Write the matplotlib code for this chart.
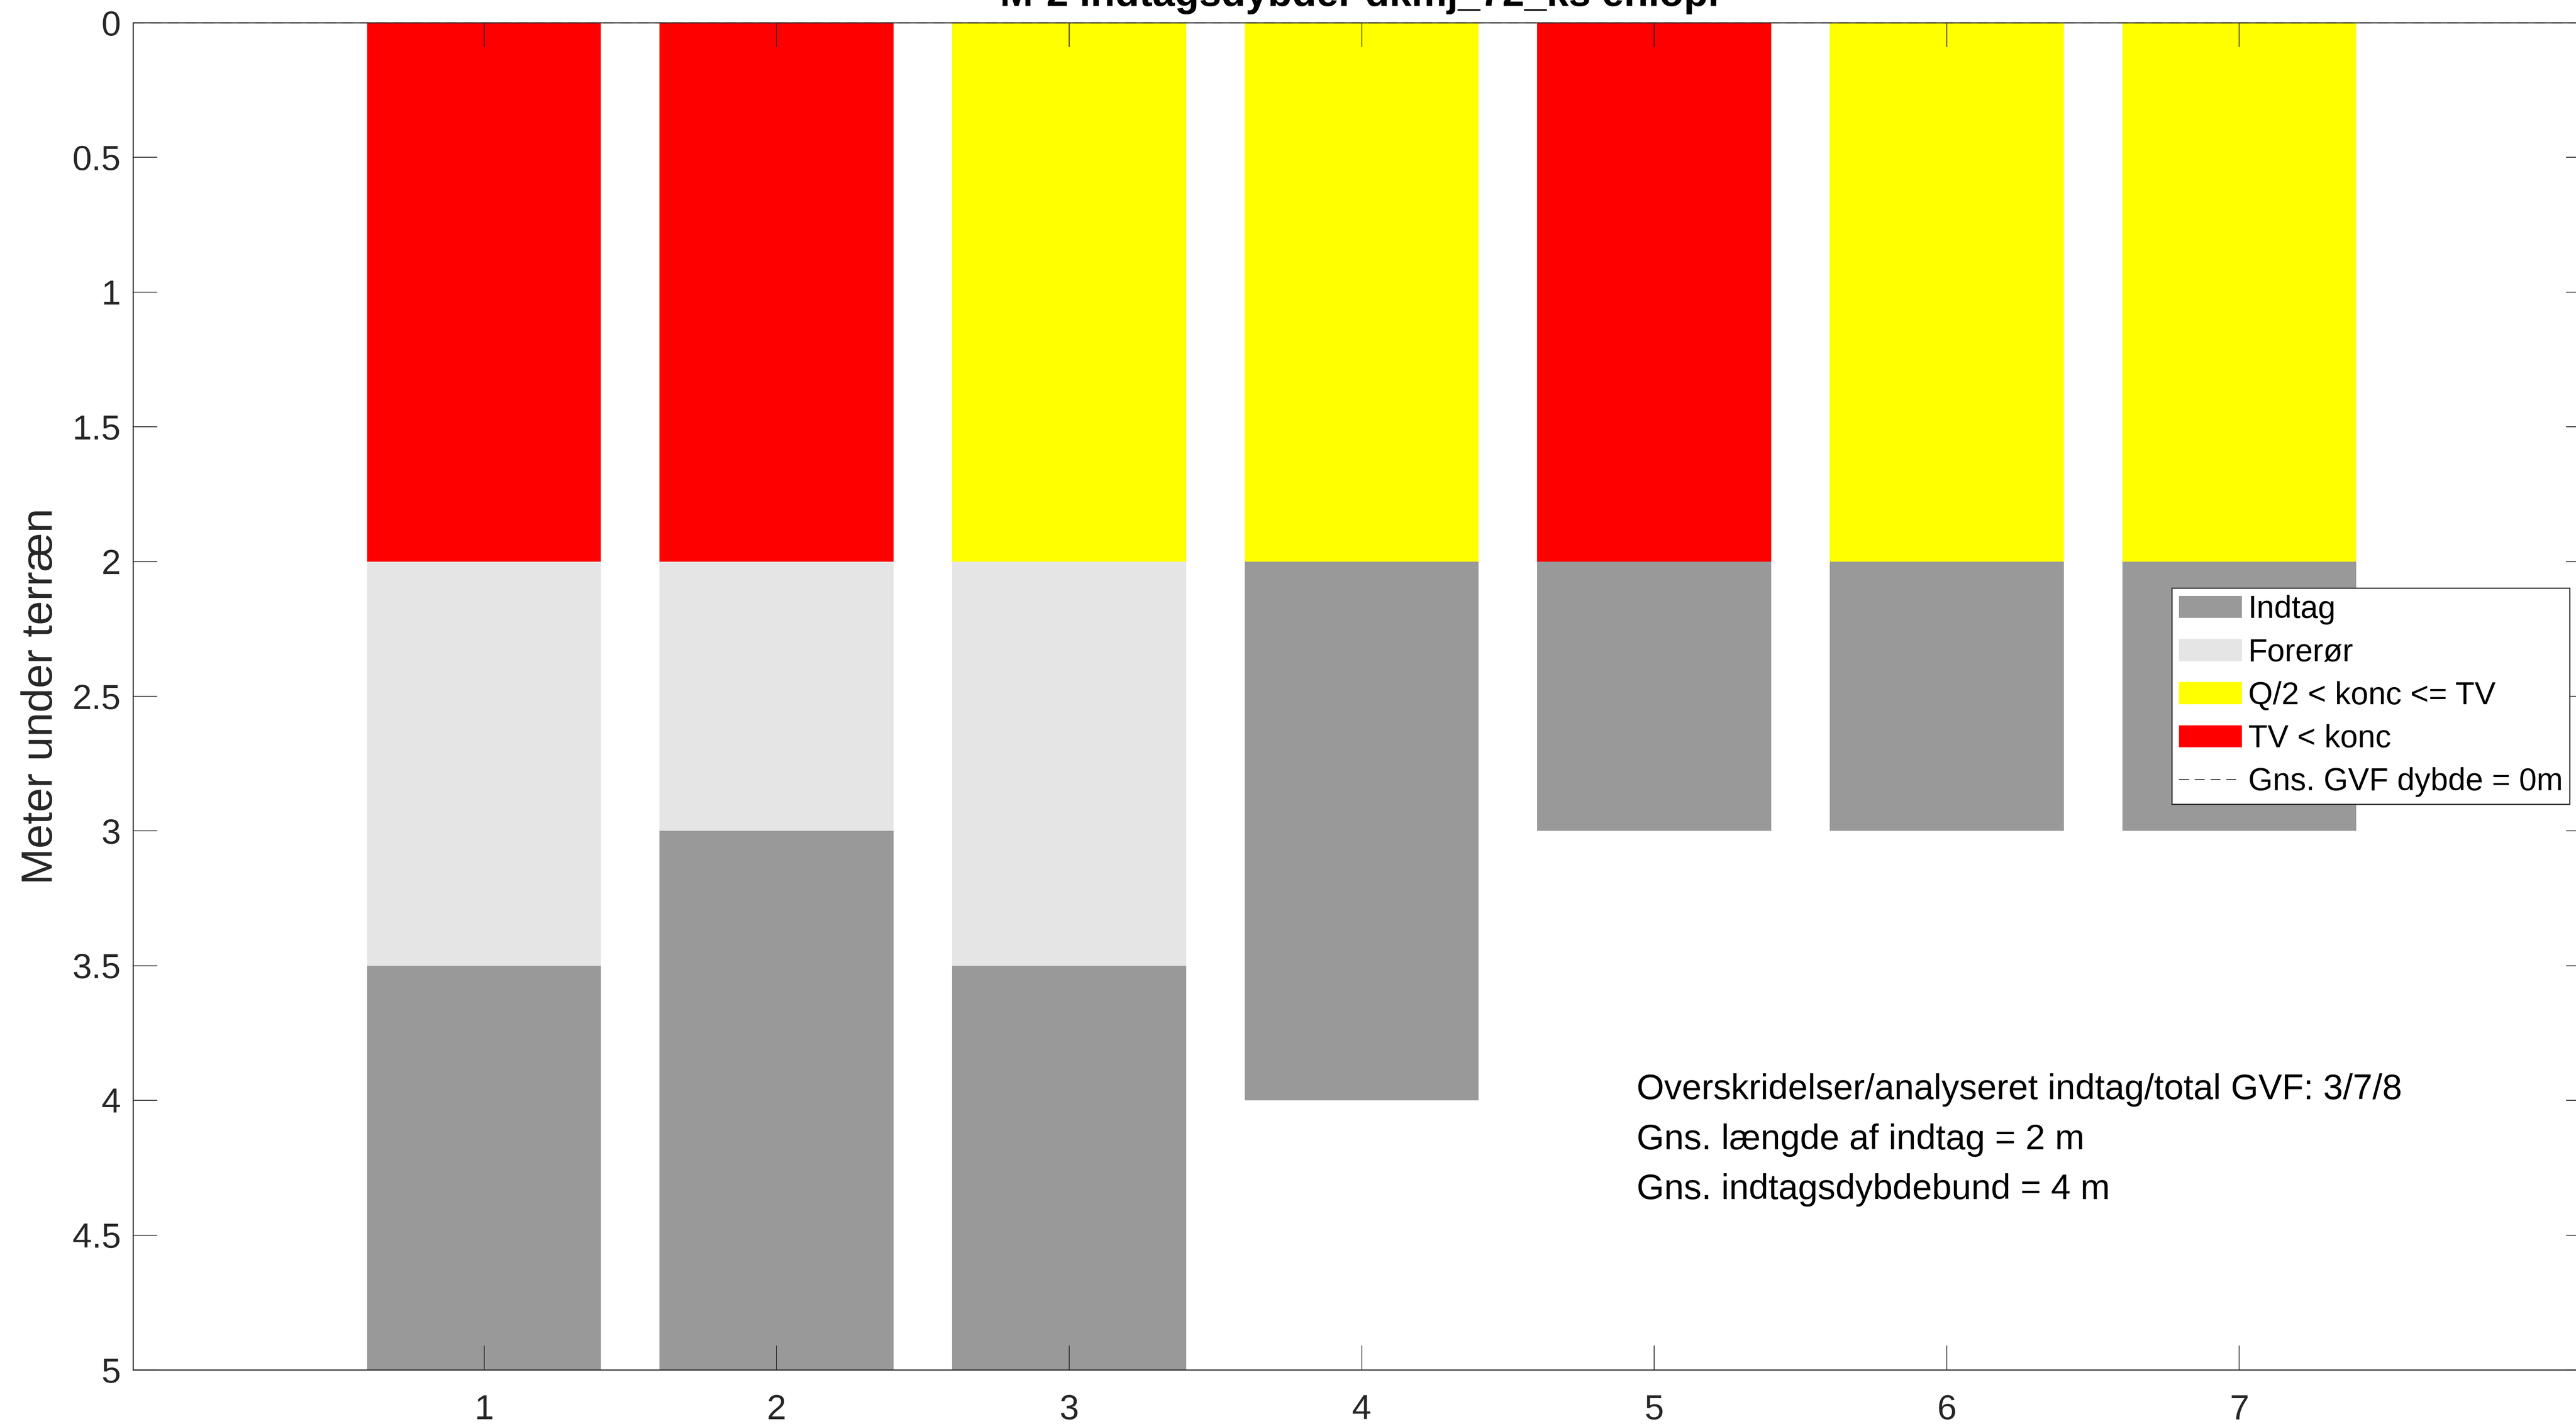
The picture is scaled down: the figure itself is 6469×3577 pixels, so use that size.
import matplotlib
matplotlib.use("Agg")
import matplotlib.pyplot as plt
from matplotlib.patches import Patch
from matplotlib.lines import Line2D

plt.rcParams['font.family'] = ['Liberation Sans', 'DejaVu Sans']

# data (depths in m below terrain)
wells = [1, 2, 3, 4, 5, 6, 7]
top_depth = [2, 2, 2, 2, 2, 2, 2]            # coloured section 0 -> 2 m
forer_bottom = [3.5, 3.0, 3.5, 2, 2, 2, 2]   # light grey section ends here
indtag_bottom = [5, 5, 5, 4, 3, 3, 3]        # dark grey section ends here
status = ["TV", "TV", "Q2", "Q2", "TV", "Q2", "Q2"]
gvf_depth = 0

title = "M-2 indtagsdybder dkmj_72_ks enlopr"
info_lines = ["Overskridelser/analyseret indtag/total GVF: 3/7/8",
              "Gns. længde af indtag = 2 m",
              "Gns. indtagsdybdebund = 4 m"]

c_indtag = "#999999"
c_forer = "#e5e5e5"
c_status = {"Q2": "#ffff00", "TV": "#ff0000"}
axcol = "#262626"

fig = plt.figure(figsize=(64.69, 35.77), dpi=100)
ax = fig.add_axes([0.05163, 0.03802, 0.95394, 0.94604])

col = [c_status[s] for s in status]
forer_len = [b - t for b, t in zip(forer_bottom, top_depth)]
indtag_len = [b - f for b, f in zip(indtag_bottom, forer_bottom)]

ax.bar(wells, top_depth, bottom=0, width=0.8, color=col, zorder=1)
ax.bar(wells, forer_len, bottom=top_depth, width=0.8, color=c_forer, zorder=1)
ax.bar(wells, indtag_len, bottom=forer_bottom, width=0.8, color=c_indtag, zorder=1)

ax.axhline(gvf_depth, color=axcol, linestyle=(0, (9, 5.3)), linewidth=2.2, zorder=5,
           clip_on=False)

ax.set_xlim(-0.2, 8.2)
ax.set_ylim(5, 0)
ax.set_xticks(wells)
ax.set_yticks([0, 0.5, 1, 1.5, 2, 2.5, 3, 3.5, 4, 4.5, 5])
ax.set_yticklabels(["0", "0.5", "1", "1.5", "2", "2.5", "3", "3.5", "4", "4.5", "5"])

ax.tick_params(axis='both', direction='in', length=44, width=1.4, colors=axcol,
               labelsize=63, top=True, right=True, labelcolor=axcol)
ax.tick_params(axis='y', pad=22)
ax.tick_params(axis='x', pad=44)
for sp in ax.spines.values():
    sp.set_color(axcol)
    sp.set_linewidth(2)
    sp.set_zorder(6)

ax.set_ylabel("Meter under terræn", fontsize=79, color=axcol, va='center')
ax.yaxis.set_label_coords(-0.0374, 0.5)

ax.text(0.5, 1.0124, title, transform=ax.transAxes, ha='center', va='baseline',
        fontsize=72, fontweight='bold', color='black')

for y, line in zip([3.962, 4.147, 4.332], info_lines):
    ax.text(4.94, y, line, ha='left', va='center', fontsize=64, color='black')

handles = [Patch(facecolor=c_indtag, edgecolor='none'),
           Patch(facecolor=c_forer, edgecolor='none'),
           Patch(facecolor=c_status["Q2"], edgecolor='none'),
           Patch(facecolor=c_status["TV"], edgecolor='none'),
           Line2D([0], [0], color=axcol, linestyle=(0, (12, 7)), linewidth=1.5)]
labels = ["Indtag", "Forerør", "Q/2 < konc <= TV", "TV < konc", "Gns. GVF dybde = 0m"]
leg = ax.legend(handles, labels, loc='upper left', bbox_to_anchor=(0.8297, 0.5804),
                borderaxespad=0, fontsize=57, handlelength=2.0, handletextpad=0.2,
                borderpad=0.22, labelspacing=0.42, fancybox=False, framealpha=1)
leg.get_frame().set_edgecolor(axcol)
leg.get_frame().set_linewidth(2)
leg.set_zorder(10)

fig.savefig("out.png", dpi=100)
